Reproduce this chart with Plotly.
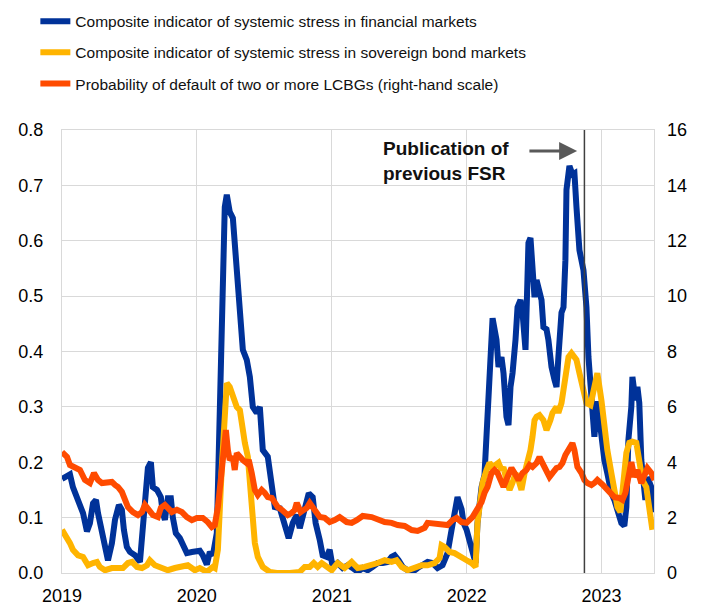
import pandas as pd
import plotly.graph_objects as go

# ---- data (time in decimal years) ----
ciss_fin_t = [2019.000, 2019.037, 2019.059, 2019.081, 2019.111, 2019.133, 2019.156, 2019.185, 2019.207, 2019.230,
              2019.252, 2019.267, 2019.296, 2019.319, 2019.341, 2019.370, 2019.393, 2019.422, 2019.444, 2019.459,
              2019.481, 2019.504, 2019.541, 2019.578, 2019.600, 2019.622, 2019.637, 2019.659, 2019.674, 2019.704,
              2019.733, 2019.748, 2019.763, 2019.785, 2019.807, 2019.822, 2019.844, 2019.874, 2019.896, 2019.926,
              2019.963, 2020.000, 2020.022, 2020.044, 2020.074, 2020.096, 2020.119, 2020.148, 2020.163, 2020.185,
              2020.193, 2020.207, 2020.222, 2020.244, 2020.267, 2020.296, 2020.319, 2020.341, 2020.370, 2020.393,
              2020.415, 2020.444, 2020.467, 2020.489, 2020.526, 2020.556, 2020.578, 2020.615, 2020.652, 2020.681,
              2020.711, 2020.741, 2020.763, 2020.785, 2020.815, 2020.830, 2020.859, 2020.881, 2020.911, 2020.933,
              2020.963, 2020.985, 2021.007, 2021.044, 2021.081, 2021.119, 2021.156, 2021.193, 2021.230, 2021.267,
              2021.304, 2021.341, 2021.378, 2021.415, 2021.444, 2021.467, 2021.496, 2021.526, 2021.563, 2021.600,
              2021.637, 2021.674, 2021.711, 2021.748, 2021.785, 2021.822, 2021.859, 2021.889, 2021.919, 2021.933,
              2021.963, 2021.978, 2022.000, 2022.022, 2022.044, 2022.067, 2022.081, 2022.111, 2022.133, 2022.156,
              2022.185, 2022.193, 2022.222, 2022.237, 2022.259, 2022.274, 2022.296, 2022.311, 2022.326, 2022.341,
              2022.363, 2022.378, 2022.400, 2022.415, 2022.437, 2022.452, 2022.459, 2022.474, 2022.489, 2022.504,
              2022.519, 2022.533, 2022.556, 2022.570, 2022.593, 2022.607, 2022.630, 2022.652, 2022.667, 2022.681,
              2022.704, 2022.719, 2022.733, 2022.741, 2022.763, 2022.785, 2022.800, 2022.815, 2022.837, 2022.867,
              2022.889, 2022.904, 2022.926, 2022.948, 2022.970, 2023.000, 2023.022, 2023.044, 2023.074, 2023.096,
              2023.119, 2023.148, 2023.170, 2023.185, 2023.200, 2023.222, 2023.230, 2023.252, 2023.267, 2023.281,
              2023.296, 2023.311, 2023.326, 2023.341, 2023.370, 2023.393]
ciss_fin_v = [0.170, 0.175, 0.178, 0.155, 0.135, 0.128, 0.108, 0.075, 0.090, 0.126,
              0.132, 0.108, 0.072, 0.042, 0.023, 0.054, 0.096, 0.123, 0.114, 0.078,
              0.047, 0.038, 0.032, 0.020, 0.078, 0.155, 0.190, 0.200, 0.155, 0.150,
              0.137, 0.108, 0.096, 0.135, 0.135, 0.100, 0.072, 0.063, 0.050, 0.036,
              0.038, 0.038, 0.040, 0.032, 0.015, 0.038, 0.032, 0.072, 0.222, 0.400,
              0.553, 0.661, 0.683, 0.652, 0.641, 0.535, 0.475, 0.403, 0.385, 0.354,
              0.300, 0.289, 0.300, 0.222, 0.210, 0.163, 0.119, 0.117, 0.083, 0.063,
              0.090, 0.105, 0.081, 0.099, 0.126, 0.144, 0.137, 0.090, 0.060, 0.032,
              0.029, 0.042, 0.011, 0.018, 0.009, 0.014, 0.009, 0.002, 0.009, 0.005,
              0.011, 0.018, 0.018, 0.020, 0.029, 0.032, 0.023, 0.011, 0.005, 0.002,
              0.009, 0.014, 0.020, 0.018, 0.009, 0.014, 0.036, 0.078, 0.126, 0.137,
              0.115, 0.090, 0.078, 0.060, 0.036, 0.018, 0.090, 0.155, 0.177, 0.300,
              0.444, 0.460, 0.421, 0.372, 0.390, 0.361, 0.282, 0.267, 0.336, 0.361,
              0.421, 0.480, 0.493, 0.470, 0.403, 0.511, 0.596, 0.605, 0.565, 0.498,
              0.529, 0.516, 0.493, 0.444, 0.440, 0.421, 0.372, 0.349, 0.336, 0.390,
              0.470, 0.480, 0.565, 0.692, 0.735, 0.720, 0.722, 0.661, 0.583, 0.547,
              0.480, 0.390, 0.318, 0.246, 0.310, 0.240, 0.204, 0.180, 0.144, 0.132,
              0.114, 0.090, 0.085, 0.119, 0.240, 0.300, 0.354, 0.312, 0.336, 0.307,
              0.204, 0.150, 0.132, 0.173, 0.155, 0.110]

ciss_sov_t = [2019.000, 2019.037, 2019.059, 2019.081, 2019.119, 2019.156, 2019.193, 2019.230, 2019.259, 2019.281,
              2019.319, 2019.370, 2019.415, 2019.452, 2019.489, 2019.519, 2019.556, 2019.593, 2019.630, 2019.652,
              2019.689, 2019.741, 2019.785, 2019.837, 2019.889, 2019.933, 2019.985, 2020.022, 2020.074, 2020.119,
              2020.133, 2020.156, 2020.185, 2020.207, 2020.222, 2020.244, 2020.267, 2020.296, 2020.319, 2020.341,
              2020.356, 2020.378, 2020.393, 2020.407, 2020.430, 2020.452, 2020.489, 2020.541, 2020.593, 2020.689,
              2020.763, 2020.800, 2020.837, 2020.867, 2020.896, 2020.926, 2020.963, 2021.000, 2021.044, 2021.096,
              2021.148, 2021.193, 2021.244, 2021.296, 2021.341, 2021.393, 2021.444, 2021.481, 2021.519, 2021.563,
              2021.615, 2021.667, 2021.711, 2021.763, 2021.800, 2021.815, 2021.837, 2021.874, 2021.911, 2021.963,
              2022.000, 2022.037, 2022.067, 2022.081, 2022.104, 2022.119, 2022.148, 2022.170, 2022.193, 2022.222,
              2022.237, 2022.259, 2022.274, 2022.296, 2022.319, 2022.341, 2022.363, 2022.385, 2022.407, 2022.430,
              2022.452, 2022.474, 2022.489, 2022.504, 2022.519, 2022.541, 2022.570, 2022.593, 2022.622, 2022.637,
              2022.667, 2022.681, 2022.704, 2022.719, 2022.741, 2022.756, 2022.778, 2022.800, 2022.815, 2022.837,
              2022.859, 2022.889, 2022.919, 2022.941, 2022.970, 2023.000, 2023.022, 2023.044, 2023.074, 2023.096,
              2023.119, 2023.141, 2023.156, 2023.170, 2023.185, 2023.207, 2023.230, 2023.259, 2023.281, 2023.304,
              2023.333, 2023.348, 2023.370, 2023.378]
ciss_sov_v = [0.078, 0.065, 0.054, 0.042, 0.032, 0.029, 0.014, 0.018, 0.020, 0.011,
              0.005, 0.009, 0.009, 0.009, 0.018, 0.020, 0.011, 0.009, 0.014, 0.023,
              0.014, 0.009, 0.005, 0.009, 0.011, 0.014, 0.005, 0.009, 0.002, 0.011,
              0.009, 0.042, 0.191, 0.312, 0.343, 0.336, 0.318, 0.300, 0.294, 0.246,
              0.235, 0.210, 0.163, 0.101, 0.054, 0.029, 0.011, 0.002, 0.000, 0.000,
              0.002, 0.011, 0.011, 0.018, 0.011, 0.018, 0.011, 0.005, 0.018, 0.009,
              0.020, 0.009, 0.011, 0.014, 0.018, 0.023, 0.020, 0.023, 0.011, 0.005,
              0.009, 0.014, 0.014, 0.018, 0.027, 0.050, 0.047, 0.038, 0.036, 0.027,
              0.023, 0.018, 0.011, 0.090, 0.144, 0.163, 0.186, 0.199, 0.191, 0.195,
              0.199, 0.186, 0.191, 0.168, 0.150, 0.163, 0.180, 0.168, 0.150, 0.180,
              0.199, 0.222, 0.246, 0.276, 0.282, 0.285, 0.276, 0.258, 0.276, 0.289,
              0.300, 0.289, 0.307, 0.330, 0.361, 0.390, 0.397, 0.390, 0.385, 0.361,
              0.336, 0.307, 0.303, 0.325, 0.361, 0.312, 0.258, 0.222, 0.180, 0.150,
              0.119, 0.110, 0.144, 0.199, 0.217, 0.235, 0.237, 0.235, 0.204, 0.168,
              0.155, 0.132, 0.083, 0.078]

pd_lcbg_t = [2019.000, 2019.037, 2019.059, 2019.096, 2019.133, 2019.170, 2019.207, 2019.237, 2019.267, 2019.296,
             2019.333, 2019.370, 2019.393, 2019.415, 2019.444, 2019.467, 2019.489, 2019.526, 2019.563, 2019.593,
             2019.615, 2019.644, 2019.674, 2019.711, 2019.733, 2019.763, 2019.785, 2019.815, 2019.852, 2019.889,
             2019.926, 2019.963, 2020.000, 2020.044, 2020.081, 2020.111, 2020.133, 2020.156, 2020.185, 2020.200,
             2020.215, 2020.230, 2020.244, 2020.267, 2020.281, 2020.296, 2020.319, 2020.341, 2020.370, 2020.385,
             2020.407, 2020.430, 2020.452, 2020.481, 2020.504, 2020.526, 2020.556, 2020.578, 2020.600, 2020.630,
             2020.652, 2020.674, 2020.704, 2020.726, 2020.741, 2020.770, 2020.793, 2020.815, 2020.837, 2020.859,
             2020.881, 2020.911, 2020.948, 2020.985, 2021.022, 2021.059, 2021.111, 2021.148, 2021.185, 2021.230,
             2021.296, 2021.341, 2021.393, 2021.444, 2021.489, 2021.541, 2021.593, 2021.637, 2021.689, 2021.711,
             2021.763, 2021.815, 2021.859, 2021.896, 2021.926, 2021.963, 2022.000, 2022.044, 2022.081, 2022.111,
             2022.133, 2022.156, 2022.185, 2022.207, 2022.230, 2022.259, 2022.274, 2022.304, 2022.333, 2022.356,
             2022.385, 2022.415, 2022.444, 2022.467, 2022.489, 2022.519, 2022.541, 2022.563, 2022.593, 2022.615,
             2022.637, 2022.667, 2022.689, 2022.711, 2022.733, 2022.763, 2022.785, 2022.800, 2022.822, 2022.852,
             2022.874, 2022.896, 2022.926, 2022.948, 2022.970, 2023.007, 2023.044, 2023.074, 2023.096, 2023.133,
             2023.156, 2023.178, 2023.193, 2023.222, 2023.244, 2023.267, 2023.296, 2023.319, 2023.341, 2023.370,
             2023.393]
pd_lcbg_v = [4.37, 4.19, 3.90, 3.79, 3.72, 3.36, 3.25, 3.61, 3.36, 3.25,
             3.25, 3.29, 3.18, 3.11, 2.93, 2.64, 2.38, 2.20, 2.09, 2.20,
             2.46, 2.28, 2.09, 2.02, 2.35, 2.46, 2.35, 2.20, 2.28, 2.20,
             2.02, 1.91, 1.99, 1.99, 1.84, 1.66, 1.73, 2.38, 3.72, 4.80,
             5.16, 4.44, 4.08, 4.19, 3.72, 4.33, 4.19, 4.08, 3.97, 4.08,
             3.61, 3.00, 2.82, 3.00, 2.89, 2.74, 2.71, 2.53, 2.38, 2.28,
             2.17, 2.09, 2.17, 2.28, 2.53, 2.20, 2.28, 2.35, 2.53, 2.35,
             2.17, 2.02, 1.99, 1.84, 1.91, 2.02, 1.84, 1.81, 1.91, 2.06,
             2.02, 1.91, 1.84, 1.81, 1.73, 1.70, 1.55, 1.52, 1.63, 1.81,
             1.77, 1.73, 1.73, 1.91, 1.99, 1.84, 1.81, 2.02, 2.28, 2.56,
             2.89, 3.11, 3.61, 3.72, 3.61, 3.25, 3.11, 3.47, 3.79, 3.61,
             3.36, 3.61, 3.72, 3.90, 3.83, 3.97, 4.19, 3.97, 3.72, 3.47,
             3.61, 3.79, 3.83, 3.97, 4.26, 4.55, 4.69, 4.44, 3.83, 3.61,
             3.36, 3.25, 3.18, 3.25, 3.36, 3.20, 3.00, 2.89, 2.74, 2.71,
             2.64, 2.89, 3.36, 4.01, 3.47, 3.72, 3.25, 3.61, 3.79, 3.61,
             3.36]

fsr_publication = 2022.874

names = ["Composite indicator of systemic stress in financial markets",
         "Composite indicator of systemic stress in sovereign bond markets",
         "Probability of default of two or more LCBGs (right-hand scale)"]
colors = ["#003299", "#FFB400", "#FF4B00"]


def to_dates(ts):
    base = pd.Timestamp("2019-01-01")
    return [base + pd.to_timedelta((t - 2019.0) * 365.25, unit="D") for t in ts]


FONT = "Liberation Sans, Arial, sans-serif"

fig = go.Figure()
fig.add_trace(go.Scatter(x=to_dates(ciss_fin_t), y=ciss_fin_v, name=names[0], mode="lines",
                         line=dict(color=colors[0], width=6), legendgroup="a"))
fig.add_trace(go.Scatter(x=to_dates(ciss_sov_t), y=ciss_sov_v, name=names[1], mode="lines",
                         line=dict(color=colors[1], width=6), legendgroup="b"))
fig.add_trace(go.Scatter(x=to_dates(pd_lcbg_t), y=pd_lcbg_v, name=names[2], mode="lines",
                         line=dict(color=colors[2], width=6), legendgroup="c", yaxis="y2"))

fsr_date = to_dates([fsr_publication])[0]
fig.add_shape(type="line", xref="x", yref="paper", x0=fsr_date, x1=fsr_date, y0=0, y1=1,
              line=dict(color="#404040", width=1.5))

arrow_tip = to_dates([2022.82])[0]
arrow_tail = to_dates([2022.455])[0]
fig.add_annotation(x=arrow_tip, y=0.762, xref="x", yref="y", ax=arrow_tail, ay=0.762,
                   axref="x", ayref="y", text="", showarrow=True, arrowhead=2,
                   arrowsize=1.2, arrowwidth=3, arrowcolor="#595959")
fig.add_annotation(x=0.539, y=0.93, xref="paper", yref="paper", xanchor="left", yanchor="middle",
                   text="<b>Publication of<br>previous FSR</b>", showarrow=False, align="left",
                   font=dict(family=FONT, size=19, color="#111111"))

# The page body has an 8px margin, so the figure is 8px smaller than the window
fig.update_layout(
    width=695, height=599,
    margin=dict(l=54, r=49, t=122, b=34, autoexpand=False),
    paper_bgcolor="white", plot_bgcolor="white",
    font=dict(family=FONT, size=18, color="#000000"),
    showlegend=True,
    legend=dict(x=-0.045, y=1.283, xanchor="left", yanchor="top", orientation="v",
                font=dict(family=FONT, size=15.5, color="#111111"), tracegroupgap=8,
                bgcolor="rgba(0,0,0,0)", itemwidth=30),
    xaxis=dict(type="date", range=[pd.Timestamp("2019-01-01"), to_dates([2023.39])[0]],
               dtick="M12", tick0="2019-01-01", tickformat="%Y", showgrid=True,
               gridcolor="#d9d9d9", gridwidth=1, showline=True, linecolor="#d9d9d9", mirror=True,
               ticks="", ticklabelstandoff=6, zeroline=False, automargin=False),
    yaxis=dict(range=[0, 0.8], dtick=0.1, tickformat=".1f", showgrid=True, gridcolor="#d9d9d9",
               gridwidth=1, showline=True, linecolor="#d9d9d9", mirror=True, ticks="",
               ticklabelstandoff=14, zeroline=False, automargin=False),
    yaxis2=dict(range=[0, 16], dtick=2, overlaying="y", side="right", showgrid=False,
                showline=False, ticks="", ticklabelstandoff=12, zeroline=False, automargin=False),
)

fig.write_html("out.html")
